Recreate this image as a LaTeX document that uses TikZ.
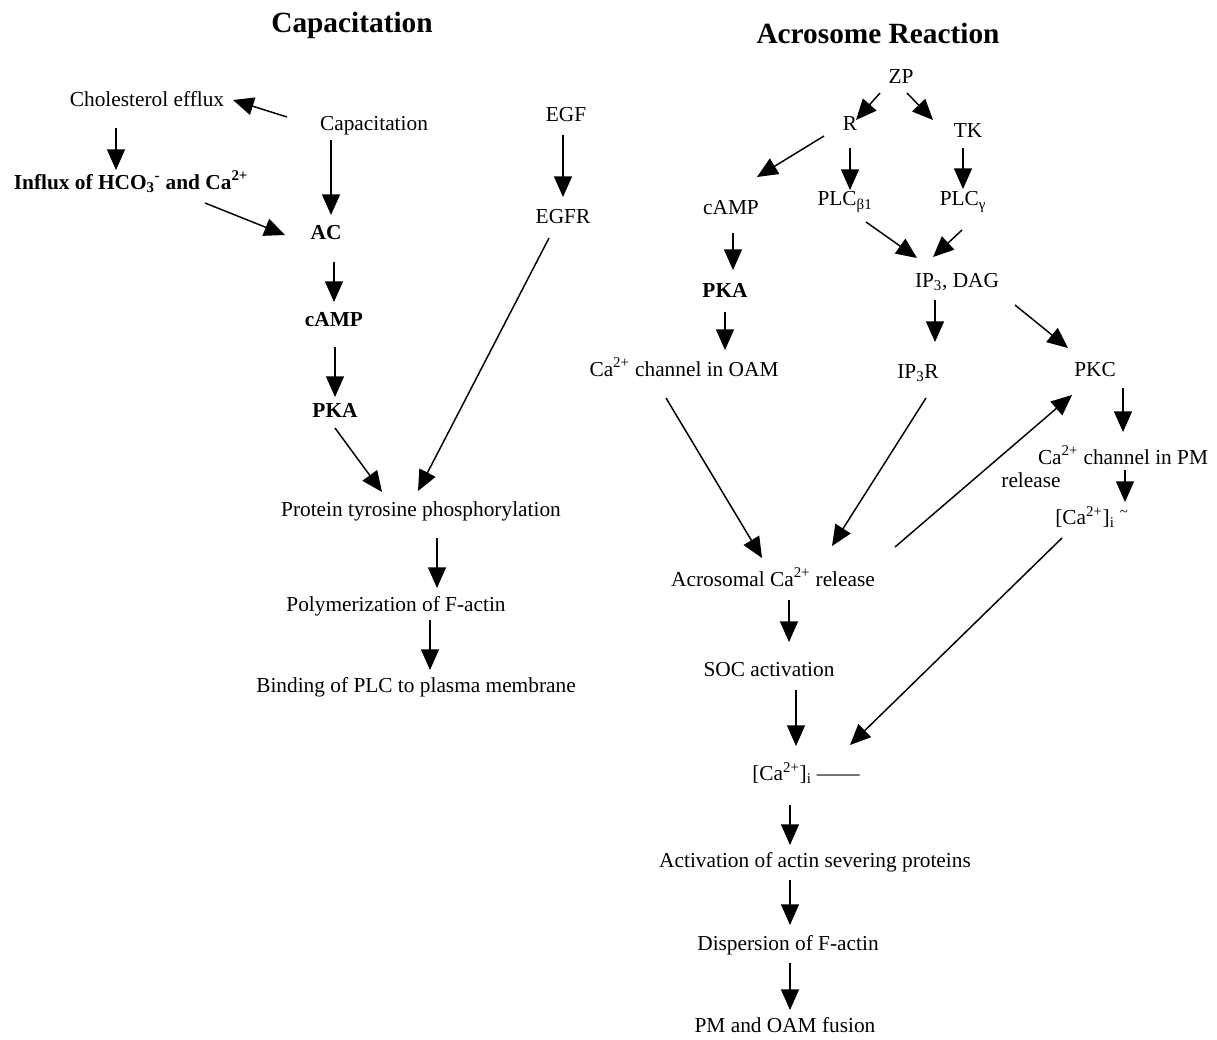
\documentclass[tikz,border=0pt]{standalone}
\usepackage{fontspec}
\setmainfont{Liberation Serif}
\usetikzlibrary{arrows.meta,calc}
\begin{document}
\begin{tikzpicture}[x=0.75pt,y=-0.75pt,
  lbl/.style={font=\fontsize{16}{18}\selectfont, inner sep=0pt, anchor=center},
  blbl/.style={lbl, font=\fontsize{16}{18}\selectfont\bfseries},
  ttl/.style={font=\fontsize{22}{24}\selectfont\bfseries, inner sep=0pt},
  arr/.style={-{Triangle[length=15.5pt,width=13.5pt]}, line width=1.1pt},
]
\useasboundingbox[fill=white] (0,0) rectangle (1217,1039);

% ---------- Capacitation ----------
\node[ttl] (t1) at (352,25) {Capacitation};
\node[lbl] (chol) at (147,99) {Cholesterol efflux};
\node[lbl] (capn) at (374,126) {Capacitation};
\node[lbl] (egf) at (566,115) {EGF};
\node[blbl] (influx) at (131,182) {Influx of HCO\textsubscript{3}\textsuperscript{-} and Ca\textsuperscript{2+}};
\node[blbl] (ac) at (326,233) {AC};
\node[lbl] (egfr) at (563,217) {EGFR};
\node[blbl] (campa) at (334,320) {cAMP};
\node[blbl] (pkaa) at (335,410) {PKA};
\node[lbl] (ptp) at (421,511) {Protein tyrosine phosphorylation};
\node[lbl] (poly) at (396,606) {Polymerization of F-actin};
\node[lbl] (bind) at (416,687) {Binding of PLC to plasma membrane};

\draw[arr] ($(capn)+(-87,-9)$) -- ($(chol)+(86,1)$);
\draw[arr] ($(chol)+(-31,29)$) -- ($(influx)+(-15,-12)$);
\draw[arr] ($(capn)+(-43,14)$) -- ($(ac)+(5,-18)$);
\draw[arr] ($(influx)+(74,21)$) -- ($(ac)+(-41,2)$);
\draw[arr] ($(egf)+(-3,20)$) -- ($(egfr)+(0,-20)$);
\draw[arr] ($(ac)+(8,29)$) -- ($(campa)+(0,-18)$);
\draw[arr] ($(campa)+(1,27)$) -- ($(pkaa)+(0,-13)$);
\draw[arr] ($(pkaa)+(0,18)$) -- ($(ptp)+(-39,-19)$);
\draw[arr] ($(egfr)+(-14,21)$) -- ($(ptp)+(-3,-20)$);
\draw[arr] ($(ptp)+(16,27)$) -- ($(poly)+(41,-18)$);
\draw[arr] ($(poly)+(34,14)$) -- ($(bind)+(14,-17)$);

% ---------- Acrosome Reaction ----------
\node[ttl] (t2) at (878,33) {Acrosome Reaction};
\node[lbl] (zp) at (901,77) {ZP};
\node[lbl] (r) at (850,124) {R};
\node[lbl] (tk) at (968,131) {TK};
\node[lbl] (campb) at (731,208) {cAMP};
\node[lbl] (plcb) at (845,202) {PLC\textsubscript{β1}};
\node[lbl] (plcg) at (963,202) {PLC\textsubscript{γ}};
\node[lbl] (ipdag) at (957,282) {IP\textsubscript{3}, DAG};
\node[blbl] (pkab) at (725,290) {PKA};
\node[lbl] (caoam) at (684,367) {Ca\textsuperscript{2+} channel in OAM};
\node[lbl] (ip3r) at (918,373) {IP\textsubscript{3}R};
\node[lbl] (pkc) at (1095,370) {PKC};
\node[lbl] (capm) at (1123,455) {Ca\textsuperscript{2+} channel in PM};
\node[lbl] (rel) at (1031,480) {release};
\node[lbl] (caib) at (1092,517) {[Ca\textsuperscript{2+}]\textsubscript{i} \textsuperscript{\textasciitilde}};
\node[lbl] (acro) at (773,577) {Acrosomal Ca\textsuperscript{2+} release};
\node[lbl] (soc) at (769,670) {SOC activation};
\node[lbl] (cai) at (806,773) {[Ca\textsuperscript{2+}]\textsubscript{i} ——};
\node[lbl] (act) at (815,862) {Activation of actin severing proteins};
\node[lbl] (disp) at (788,945) {Dispersion of F-actin};
\node[lbl] (pm) at (785,1025) {PM and OAM fusion};

\draw[arr] ($(zp)+(-21,16)$) -- ($(r)+(6,-4)$);
\draw[arr] ($(zp)+(6,16)$) -- ($(tk)+(-35,-11)$);
\draw[arr] ($(r)+(-26,12)$) -- ($(campb)+(26,-31)$);
\draw[arr] ($(r)+(0,24)$) -- ($(plcb)+(5,-12)$);
\draw[arr] ($(tk)+(-5,17)$) -- ($(plcg)+(0,-13)$);
\draw[arr] ($(plcb)+(21,20)$) -- ($(ipdag)+(-40,-24)$);
\draw[arr] ($(plcg)+(-1,28)$) -- ($(ipdag)+(-24,-25)$);
\draw[arr] ($(campb)+(2,25)$) -- ($(pkab)+(8,-20)$);
\draw[arr] ($(pkab)+(0,22)$) -- ($(caoam)+(41,-17)$);
\draw[arr] ($(ipdag)+(-22,18)$) -- ($(ip3r)+(17,-31)$);
\draw[arr] ($(ipdag)+(58,23)$) -- ($(pkc)+(-27,-22)$);
\draw[arr] ($(caoam)+(-18,31)$) -- ($(acro)+(-11,-19)$);
\draw[arr] ($(ip3r)+(8,25)$) -- ($(acro)+(59,-31)$);
\draw[arr] ($(acro)+(122,-30)$) -- ($(pkc)+(-23,25)$);
\draw[arr] ($(pkc)+(28,18)$) -- ($(capm)+(0,-23)$);
\draw[arr] ($(capm)+(2,15)$) -- ($(caib)+(33,-15)$);
\draw[arr] ($(acro)+(16,23)$) -- ($(soc)+(20,-28)$);
\draw[arr] ($(caib)+(-30,21)$) -- ($(cai)+(44,-28)$);
\draw[arr] ($(soc)+(27,20)$) -- ($(cai)+(-10,-27)$);
\draw[arr] ($(cai)+(-16,32)$) -- ($(act)+(-25,-17)$);
\draw[arr] ($(act)+(-25,18)$) -- ($(disp)+(2,-20)$);
\draw[arr] ($(disp)+(2,18)$) -- ($(pm)+(5,-15)$);
\end{tikzpicture}
\end{document}
